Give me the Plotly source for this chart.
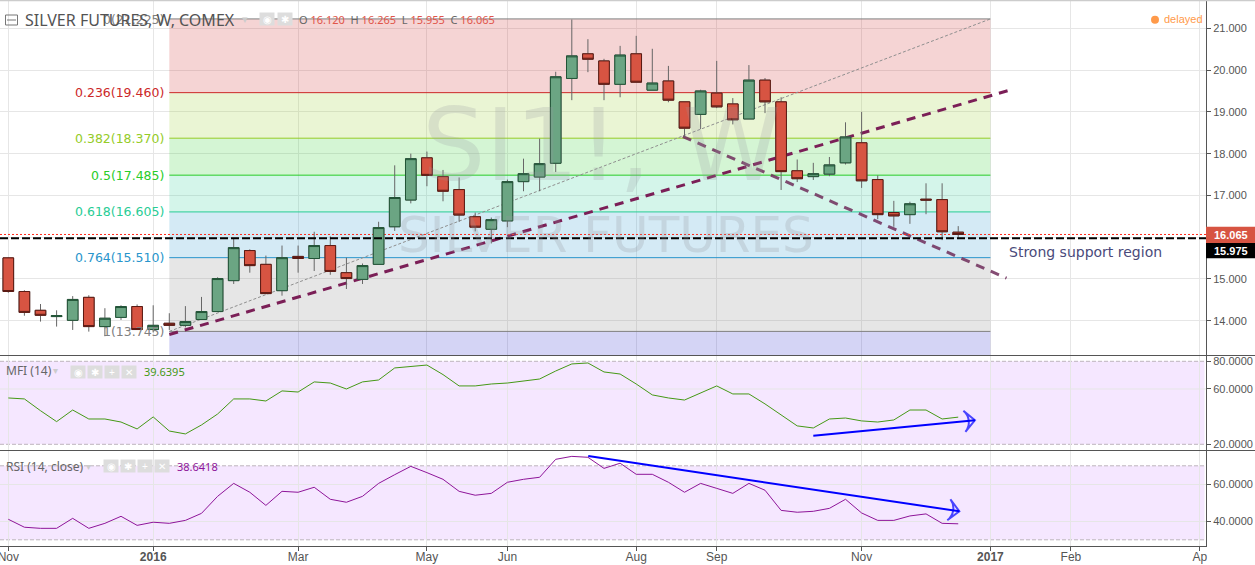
import pandas as pd
import plotly.graph_objects as go

# ---------- data ----------
opens = [15.505,14.70,14.25,14.10,14.01,14.56,13.86,14.08,14.34,13.79,13.94,13.89,14.03,14.22,14.96,15.68,15.35,14.72,15.54,15.49,
         15.80,15.15,14.99,15.35,16.25,16.89,17.90,17.45,17.14,16.49,16.19,16.39,17.33,17.44,17.77,19.80,20.39,20.22,19.66,20.39,
         19.52,19.74,19.24,18.94,19.45,19.19,18.83,19.76,19.24,17.59,17.45,17.51,17.78,18.26,17.38,16.59,16.54,16.91,16.90,16.12]
highs = [15.52,14.73,14.40,14.25,14.59,14.61,14.30,14.37,14.39,14.37,14.18,14.35,14.57,15.04,15.98,15.71,15.56,15.80,15.80,16.13,
         16.02,15.51,15.37,16.37,17.72,18.00,18.05,17.61,17.43,16.59,16.47,17.38,17.88,18.36,19.96,21.21,20.74,20.27,20.58,20.82,
         20.51,20.10,19.24,19.53,20.22,19.33,20.12,19.81,19.35,17.86,17.78,17.92,18.75,19.00,17.48,16.87,16.85,17.29,17.29,16.265]
lows = [14.67,14.12,13.98,13.86,13.78,13.74,13.63,14.02,13.79,13.72,13.78,13.84,14.02,14.22,14.88,15.15,14.65,14.60,15.15,15.19,
        15.10,14.76,14.88,15.35,16.15,16.81,17.22,16.86,16.37,16.14,15.85,16.24,17.10,17.10,17.56,19.28,19.95,19.28,19.35,19.71,
        19.52,19.23,18.40,18.59,19.09,18.70,18.83,18.97,17.13,17.32,17.37,17.46,17.74,17.18,16.43,16.25,16.32,16.55,15.93,15.955]
closes = [14.70,14.20,14.13,14.12,14.51,13.86,14.06,14.34,13.79,13.89,13.89,13.98,14.22,15.01,15.75,15.32,14.65,15.51,15.49,15.80,
          15.18,15.01,15.32,16.23,16.95,17.88,17.48,17.10,16.53,16.24,16.42,17.33,17.52,17.76,19.84,20.34,20.26,19.66,20.36,19.71,
          19.69,19.28,18.61,19.50,19.12,18.81,19.76,19.24,17.57,17.40,17.52,17.73,18.40,17.35,16.54,16.51,16.80,16.89,16.13,16.065]
mfi = [53.5,52.8,44.3,36.4,44.8,38.3,38.3,36.1,31.1,39.8,29.6,27.5,34.0,41.9,52.8,52.8,51.3,58.6,57.8,65.1,
       64.3,60.0,65.1,66.5,75.2,76.1,77.3,70.4,62.2,62.2,63.6,64.3,65.8,67.2,73.0,78.1,78.8,72.3,70.8,63.6,
       55.7,53.5,52.0,57.1,62.2,56.4,56.4,49.2,41.2,33.3,31.8,38.3,39.0,36.9,36.1,37.6,44.8,44.8,38.3,39.6395]
rsi = [41.1,36.8,36.2,36.2,41.6,36.2,38.9,42.7,37.8,39.5,38.9,40.5,44.3,53.5,60.5,55.7,48.6,56.2,55.7,58.4,
       51.9,50.3,53.5,60.5,65.2,69.7,66.3,62.7,56.2,54.1,55.1,61.1,62.7,63.8,73.5,75.1,74.6,68.6,71.4,65.4,
       65.4,61.1,55.7,60.5,57.8,55.1,60.5,56.8,45.9,44.9,45.4,47.0,51.9,44.5,40.5,40.5,42.9,44.0,38.9,38.6418]

fib_ratios = ["0", "0.236", "0.382", "0.5", "0.618", "0.764", "1"]
fib_prices = [21.225, 19.460, 18.370, 17.485, 16.605, 15.510, 13.745]
fib_line_colors = ["#808080", "#cc2828", "#95cc28", "#28cc28", "#28cc95", "#2895cc", "#808080"]
fib_fill_colors = ["rgba(204,40,40,0.2)", "rgba(149,204,40,0.2)", "rgba(40,204,40,0.2)", "rgba(40,204,149,0.2)",
                   "rgba(40,149,204,0.2)", "rgba(130,130,130,0.2)", "rgba(40,40,204,0.2)"]

x_tick_dates = ["2015-11-02","2016-01-04","2016-03-07","2016-05-02","2016-06-06","2016-08-01","2016-09-05","2016-11-07","2017-01-02","2017-02-06","2017-04-03"]
x_tick_text = ["Nov","<b>2016</b>","Mar","May","Jun","Aug","Sep","Nov","<b>2017</b>","Feb","Ap"]
price_ticks = [14, 15, 16, 17, 18, 19, 20, 21]
price_tick_text = ["14.000", "15.000", "", "17.000", "18.000", "19.000", "20.000", "21.000"]

# ---------- geometry ----------
W, H = 1255, 565
PL_R, PL_T, PL_B = 1206, 1, 546
def px(x): return x / PL_R
def py(y): return (PL_B - y) / (PL_B - PL_T)

start = pd.Timestamp("2015-11-02")
def week(i):
    return (start + pd.Timedelta(days=7 * i)).strftime("%Y-%m-%d %H:%M:%S")
dates = [week(i) for i in range(len(opens))]
x_range = [week(-0.5155), week(74.39)]
x_band = [week(10), week(61)]

main_range = [13.18, 21.654]
mfi_range = [15.88, 84.56]
rsi_range = [26.65, 78.54]
dom_main = [py(355), 1]
dom_mfi = [py(450), py(355)]
dom_rsi = [0, py(450)]

AX = "#555555"
GRID = "#e6e6e6"
UP, UP_L = "#6ba583", "#225437"
DN, DN_L = "#d75442", "#5b1a13"
TXT = "Liberation Sans"
HEAD = "Noto Sans"
DV = "DejaVu Sans"

fig = go.Figure()

# wicks (grey) below bodies
fig.add_trace(go.Candlestick(x=dates, open=opens, high=highs, low=lows, close=closes, xaxis="x", yaxis="y",
    increasing=dict(line=dict(color="#666666", width=1), fillcolor=UP),
    decreasing=dict(line=dict(color="#666666", width=1), fillcolor=DN),
    showlegend=False, hoverinfo="skip"))
fig.add_trace(go.Candlestick(x=dates, open=opens, close=closes,
    high=[max(o, c) for o, c in zip(opens, closes)], low=[min(o, c) for o, c in zip(opens, closes)],
    xaxis="x", yaxis="y",
    increasing=dict(line=dict(color=UP_L, width=1), fillcolor=UP),
    decreasing=dict(line=dict(color=DN_L, width=1), fillcolor=DN),
    showlegend=False, hoverinfo="skip"))

# support line above candles
fig.add_trace(go.Scatter(x=x_range, y=[15.975, 15.975], mode="lines", xaxis="x", yaxis="y",
    line=dict(color="#000000", width=2, dash="8px,3px"), showlegend=False, hoverinfo="skip"))

fig.add_trace(go.Scatter(x=dates, y=mfi, mode="lines", xaxis="x2", yaxis="y2",
    line=dict(color="#459915", width=1), showlegend=False, hoverinfo="skip"))
fig.add_trace(go.Scatter(x=dates, y=rsi, mode="lines", xaxis="x3", yaxis="y3",
    line=dict(color="#8e1599", width=1), showlegend=False, hoverinfo="skip"))

# blue arrows
fig.add_trace(go.Scatter(x=[week(50), week(60.04)], y=[26.2, 37.4], mode="lines+markers", xaxis="x2", yaxis="y2",
    line=dict(color="#0000ff", width=2),
    marker=dict(size=[0, 15], symbol="arrow-wide-open", angleref="previous", color="#0000ff", line=dict(color="#0000ff", width=2)),
    showlegend=False, hoverinfo="skip"))
fig.add_trace(go.Scatter(x=[week(36.02), week(59.07)], y=[75.3, 45.4], mode="lines+markers", xaxis="x3", yaxis="y3",
    line=dict(color="#0000ff", width=2),
    marker=dict(size=[0, 15], symbol="arrow-wide-open", angleref="previous", color="#0000ff", line=dict(color="#0000ff", width=2)),
    showlegend=False, hoverinfo="skip"))

shapes = []
# fib bands
edges = fib_prices + [main_range[0]]
for i, col in enumerate(fib_fill_colors):
    shapes.append(dict(type="rect", xref="x", yref="y", x0=x_band[0], x1=x_band[1], y0=edges[i+1], y1=edges[i],
                       fillcolor=col, line=dict(width=0), layer="between"))
for p, c in zip(fib_prices, fib_line_colors):
    shapes.append(dict(type="line", xref="x", yref="y", x0=x_band[0], x1=x_band[1], y0=p, y1=p,
                       line=dict(color=c, width=1), layer="between"))
# fib trend line
shapes.append(dict(type="line", xref="x", yref="y", x0=x_band[0], x1=x_band[1], y0=13.745, y1=21.225,
                   line=dict(color="#8f8f8f", width=1, dash="3px,2px"), layer="between"))
# drawn trend lines
shapes.append(dict(type="line", xref="x", yref="y", x0=week(41.9), x1=week(62.0), y0=18.41, y1=15.02,
                   line=dict(color="rgba(110,45,90,0.85)", width=3, dash="9px,7px"), layer="between"))
shapes.append(dict(type="line", xref="x", yref="y", x0=week(10), x1=week(62.1), y0=13.67, y1=19.51,
                   line=dict(color="#7b1f57", width=3, dash="9px,7px"), layer="between"))
# last price line
shapes.append(dict(type="line", xref="x", yref="y", x0=x_range[0], x1=x_range[1], y0=16.065, y1=16.065,
                   line=dict(color="#ff2a1a", width=1, dash="2px,2px"), layer="between"))

# indicator bands
FILL = "rgba(153,21,255,0.1)"
BAND = "#bdb5bd"
end = px(1204.5)
for yref, lo, hi, extra in (("y2", 20, 80, [60]), ("y3", 30, 70, [])):
    shapes.append(dict(type="rect", xref="paper", yref=yref, x0=0, x1=end, y0=lo, y1=hi, fillcolor=FILL, line=dict(width=0), layer="between"))
    for v in (lo, hi):
        shapes.append(dict(type="line", xref="paper", yref=yref, x0=0, x1=end, y0=v, y1=v,
                           line=dict(color=BAND, width=1, dash="4px,2px"), layer="between"))
    for v in extra:
        shapes.append(dict(type="line", xref="paper", yref=yref, x0=0, x1=1, y0=v, y1=v,
                           line=dict(color=GRID, width=1), layer="below"))

# frame lines & chrome
shapes += [
    dict(type="line", xref="paper", yref="paper", x0=0, x1=W/PL_R, y0=py(0.5), y1=py(0.5), line=dict(color="#cccccc", width=1.5)),
    dict(type="line", xref="paper", yref="paper", x0=0, x1=W/PL_R, y0=py(355.5), y1=py(355.5), line=dict(color=AX, width=1)),
    dict(type="line", xref="paper", yref="paper", x0=0, x1=W/PL_R, y0=py(450.5), y1=py(450.5), line=dict(color=AX, width=1)),
    dict(type="rect", xref="paper", yref="paper", x0=px(5.5), x1=px(17.5), y0=py(25), y1=py(15), line=dict(color="#777777", width=1), fillcolor="rgba(0,0,0,0)"),
    dict(type="line", xref="paper", yref="paper", x0=px(7), x1=px(16), y0=py(20), y1=py(20), line=dict(color="#777777", width=1)),
    dict(type="circle", xref="paper", yref="paper", x0=px(1151), x1=px(1159), y0=py(23.7), y1=py(15.7), fillcolor="#ff9a4a", line=dict(width=0)),
    dict(type="rect", xref="paper", yref="paper", x0=1, x1=W/PL_R, y0=py(243), y1=py(226.7), fillcolor=DN, line=dict(width=0)),
    dict(type="rect", xref="paper", yref="paper", x0=1, x1=W/PL_R, y0=py(258.3), y1=py(243), fillcolor="#000000", line=dict(width=0)),
]

anns = []
def note(x, y, text, size=11, color="#555555", family=TXT, xanchor="left", **kw):
    anns.append(dict(xref="paper", yref="paper", x=px(x), y=py(y), text=text, showarrow=False, xanchor=xanchor,
                     yanchor="middle", font=dict(size=size, color=color, family=family), borderpad=0, **kw))

# watermark
note(601, 146, "SI1!, W", size=100, color="rgba(149,152,161,0.22)", family=DV, xanchor="center")
note(606, 235, "SILVER FUTURES", size=50, color="rgba(149,152,161,0.25)", family=DV, xanchor="center")

# fib labels
for r, p, c in zip(fib_ratios, fib_prices, fib_line_colors):
    note(165, 19 if r == "0" else 28.3 + (21 - p) * 41.77, f"{r}({p:.3f})", size=12.5, color=c, family=DV, xanchor="right")

# header
note(24, 20, "SILVER FUTURES, W, COMEX", size=16, color="#535353", family=HEAD)
note(241, 19, "▾", size=11, color="#cccccc")
def icons(xs, y, glyphs):
    for x0, g in zip(xs, glyphs):
        note(x0, y, g, size=10, color="#ffffff", xanchor="left", bgcolor="#dddddd", width=14, height=12, align="center")
icons([259, 277], 19, ["◉", "✱"])
red = "#e0564a"
sp = "&nbsp;&nbsp;"
note(298, 20, f"O <span style='color:{red}'>16.120</span>{sp}H <span style='color:{red}'>16.265</span>{sp}L <span style='color:{red}'>15.955</span>{sp}C <span style='color:{red}'>16.065</span>",
     size=11, color="#666666", family=HEAD)

note(1163, 19, "delayed", size=11, color="#ff9a4a")

note(5, 371, "MFI (14)", size=12, color="#666666", family=HEAD)
note(52, 371, "▾", size=10, color="#cccccc")
icons([70, 87, 104, 121], 371.5, ["◉", "✱", "+", "✕"])
note(143, 371.5, "39.6395", size=11, color="#459915", family=HEAD)

note(5, 466, "RSI (14, close)", size=12, color="#666666", family=HEAD)
note(85, 466, "▾", size=10, color="#cccccc")
icons([103, 120, 137, 154], 466, ["◉", "✱", "+", "✕"])
note(176, 466, "38.6418", size=11, color="#8e1599", family=HEAD)

note(1008, 252, "Strong support region", size=14, color="#4a4a7a", family=DV)
note(1213, 235, "<b>16.065</b>", size=11, color="#ffffff")
note(1213, 251.3, "<b>15.975</b>", size=11, color="#ffffff")

def xaxis(anchor, labels=False, **kw):
    d = dict(type="date", range=x_range, anchor=anchor, tickmode="array", tickvals=x_tick_dates, automargin=False,
             showgrid=True, gridcolor=GRID, gridwidth=1, zeroline=False, showticklabels=labels, ticklabeloverflow="allow",
             ticks="outside" if labels else "", ticklen=4, tickcolor=AX, showline=labels, linecolor=AX, linewidth=1)
    d.update(kw)
    return d

def yaxis(domain, rng, vals, text, grid=True):
    return dict(domain=domain, range=rng, side="right", anchor="x", tickmode="array", tickvals=vals, ticktext=text, automargin=False,
                showgrid=grid, gridcolor=GRID, gridwidth=1, zeroline=False, showline=True, linecolor=AX, linewidth=1,
                ticks="outside", ticklen=4, tickcolor=AX, tickfont=dict(size=11, color=AX, family=TXT))

y2 = yaxis(dom_mfi, mfi_range, [20, 60, 80], ["20.0000", "60.0000", "80.0000"], grid=False); y2["anchor"] = "x2"
y3 = yaxis(dom_rsi, rsi_range, [40, 60], ["40.0000", "60.0000"]); y3["anchor"] = "x3"

fig.update_layout(
    width=W, height=H, autosize=False,
    margin=dict(l=0, r=W - PL_R, t=PL_T, b=H - PL_B, pad=0),
    paper_bgcolor="#ffffff", plot_bgcolor="#ffffff",
    showlegend=False, boxgap=0.34, boxgroupgap=0, boxmode="overlay", dragmode=False,
    xaxis=xaxis("y", rangeslider=dict(visible=False)),
    xaxis2=xaxis("y2", matches="x"),
    xaxis3=xaxis("y3", labels=True, matches="x", ticktext=x_tick_text, ticklabelstandoff=-4,
                 tickfont=dict(size=12, color=AX, family=TXT)),
    yaxis=yaxis(dom_main, main_range, price_ticks, price_tick_text),
    yaxis2=y2, yaxis3=y3,
    shapes=shapes, annotations=anns,
)

fig.write_html("out.html", config={"displayModeBar": False},
               post_script="document.body.style.margin='0';document.documentElement.style.overflow='hidden';")
